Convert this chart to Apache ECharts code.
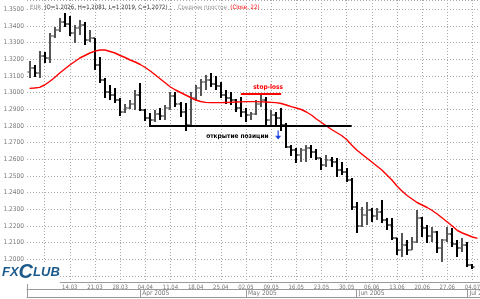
<!DOCTYPE html>
<html><head><meta charset="utf-8">
<script src="https://cdn.jsdelivr.net/npm/echarts@6/dist/echarts.min.js"></script>
<style>html,body{margin:0;padding:0;background:#fff}#c{width:480px;height:299px}</style>
</head><body><div id="c"></div>
<script>
const categories = [
'02.03','03.03','04.03','07.03','08.03','09.03','10.03','11.03','14.03','15.03','16.03','17.03','18.03','21.03','22.03','23.03','24.03','25.03','28.03','29.03','30.03','31.03',
'01.04','04.04','05.04','06.04','07.04','08.04','11.04','12.04','13.04','14.04','15.04','18.04','19.04','20.04','21.04','22.04','25.04','26.04','27.04','28.04','29.04',
'02.05','03.05','04.05','05.05','06.05','09.05','10.05','11.05','12.05','13.05','16.05','17.05','18.05','19.05','20.05','23.05','24.05','25.05','26.05','27.05','30.05','31.05',
'01.06','02.06','03.06','06.06','07.06','08.06','09.06','10.06','13.06','14.06','15.06','16.06','17.06','20.06','21.06','22.06','23.06','24.06','27.06','28.06','29.06','30.06',
'01.07','04.07','05.07'];
const weekTicks = ['07.03','14.03','21.03','28.03','04.04','11.04','18.04','25.04','02.05','09.05','16.05','23.05','30.05','06.06','13.06','20.06','27.06','04.07'];
const hiddenWeekLabels = ['07.03'];
const monthLabels = {'01.04':'Apr 2005','02.05':'May 2005','01.06':'Jun 2005','01.07':'Jul 2005'};

const openP = [1.3124,1.3148,1.3118,1.3220,1.3208,1.3340,1.3376,1.3424,1.3412,1.3358,
1.3388,1.3406,1.3316,1.3328,1.3166,1.3076,1.3004,1.2986,1.2956,1.2884,
1.2908,1.2932,1.2986,1.2896,1.2848,1.2836,1.2872,1.2860,1.2908,1.2980,
1.2932,1.2884,1.2806,1.2968,1.3028,1.3064,1.3076,1.3052,1.3040,1.2986,
1.2968,1.2956,1.2908,1.2884,1.2866,1.2872,1.2932,1.2956,1.2836,1.2866,
1.2848,1.2806,1.2674,1.2656,1.2626,1.2656,1.2668,1.2644,1.2608,1.2566,
1.2596,1.2584,1.2536,1.2524,1.2476,1.2314,1.2200,1.2266,1.2296,1.2260,
1.2284,1.2236,1.2206,1.2128,1.2056,1.2086,1.2056,1.2104,1.2248,1.2188,
1.2140,1.2164,1.2068,1.2116,1.2152,1.2092,1.2068,1.2086,1.1966];
const highP = [1.3190,1.3166,1.3250,1.3244,1.3358,1.3394,1.3448,1.3478,1.3460,1.3406,
1.3436,1.3424,1.3376,1.3328,1.3214,1.3088,1.3046,1.3028,1.2968,1.2932,
1.2956,1.3016,1.3058,1.2902,1.2878,1.2896,1.2908,1.2926,1.3004,1.3004,
1.2944,1.2938,1.3004,1.3046,1.3082,1.3106,1.3118,1.3100,1.3064,1.3016,
1.3004,1.2962,1.2974,1.2908,1.2884,1.2956,1.2986,1.2974,1.2896,1.2884,
1.2908,1.2818,1.2686,1.2668,1.2668,1.2686,1.2686,1.2662,1.2608,1.2626,
1.2614,1.2608,1.2584,1.2548,1.2488,1.2344,1.2314,1.2344,1.2308,1.2308,
1.2356,1.2248,1.2248,1.2128,1.2158,1.2116,1.2134,1.2296,1.2254,1.2206,
1.2194,1.2170,1.2122,1.2194,1.2188,1.2116,1.2128,1.2104,1.1972];
const lowP = [1.3088,1.3094,1.3088,1.3178,1.3178,1.3328,1.3364,1.3394,1.3340,1.3298,
1.3346,1.3286,1.3304,1.3136,1.3058,1.2968,1.2956,1.2938,1.2860,1.2878,
1.2902,1.2896,1.2890,1.2830,1.2794,1.2824,1.2836,1.2836,1.2896,1.2914,
1.2854,1.2770,1.2794,1.2950,1.2980,1.3016,1.3034,1.3016,1.2968,1.2932,
1.2926,1.2884,1.2854,1.2824,1.2836,1.2866,1.2914,1.2806,1.2794,1.2806,
1.2770,1.2668,1.2620,1.2578,1.2584,1.2584,1.2608,1.2596,1.2536,1.2554,
1.2554,1.2494,1.2506,1.2464,1.2296,1.2158,1.2194,1.2206,1.2224,1.2236,
1.2218,1.2176,1.2116,1.2026,1.2014,1.2026,1.2056,1.2098,1.2134,1.2098,
1.2104,1.2038,1.1984,1.2104,1.2074,1.2014,1.2044,1.1954,1.1942];
const closeP = [1.3148,1.3118,1.3220,1.3208,1.3340,1.3376,1.3424,1.3412,1.3358,1.3388,
1.3406,1.3316,1.3328,1.3166,1.3076,1.3004,1.2986,1.2956,1.2884,1.2908,
1.2932,1.2986,1.2896,1.2848,1.2836,1.2872,1.2860,1.2908,1.2980,1.2932,
1.2884,1.2806,1.2968,1.3028,1.3064,1.3076,1.3052,1.3040,1.2986,1.2968,
1.2956,1.2908,1.2884,1.2866,1.2872,1.2932,1.2956,1.2836,1.2866,1.2848,
1.2806,1.2674,1.2656,1.2626,1.2656,1.2668,1.2644,1.2608,1.2566,1.2596,
1.2584,1.2536,1.2524,1.2476,1.2314,1.2200,1.2266,1.2296,1.2260,1.2284,
1.2236,1.2206,1.2128,1.2056,1.2086,1.2056,1.2104,1.2248,1.2188,1.2140,
1.2164,1.2068,1.2116,1.2152,1.2092,1.2068,1.2086,1.1966,1.1954];
const ma22 = [1.3026,1.3028,1.3032,1.3046,1.3067,1.3091,1.3118,1.3142,1.3166,1.3187,
1.3208,1.3223,1.3238,1.3249,1.3256,1.3256,1.3247,1.3238,1.3223,1.3211,
1.3196,1.3184,1.3169,1.3151,1.3130,1.3106,1.3082,1.3058,1.3034,1.3016,
1.3001,1.2986,1.2971,1.2956,1.2947,1.2942,1.2940,1.2940,1.2940,1.2941,
1.2942,1.2944,1.2945,1.2946,1.2946,1.2946,1.2945,1.2944,1.2942,1.2940,
1.2935,1.2926,1.2916,1.2908,1.2899,1.2884,1.2866,1.2842,1.2821,1.2800,
1.2779,1.2761,1.2743,1.2719,1.2686,1.2656,1.2632,1.2608,1.2584,1.2560,
1.2536,1.2506,1.2476,1.2440,1.2410,1.2383,1.2362,1.2341,1.2326,1.2311,
1.2293,1.2272,1.2248,1.2224,1.2200,1.2173,1.2158,1.2146,1.2134,1.2126];

const entryLevel = 1.2800, entryFrom = '05.04', entryTo = '31.05';
const stopLevel = 1.2995, stopFrom = '29.04', stopTo = '11.05';

const ohlc = openP.map((o, i) => [i, o, highP[i], lowP[i], closeP[i]]);
const chart = echarts.init(document.getElementById('c'), null, {renderer: 'canvas'});
const FONT = "'DejaVu Sans Condensed', 'Liberation Sans', sans-serif";

chart.setOption({
  animation: false,
  backgroundColor: '#fff',
  grid: {left: 27, right: 0, top: 0, bottom: 17, containLabel: false, outerBoundsMode: 'none'},
  xAxis: [{
    type: 'category', data: categories, boundaryGap: true, position: 'bottom',
    axisLine: {show: true, lineStyle: {color: '#999', width: 1}},
    axisTick: {show: false},
    axisLabel: {color: '#777', fontSize: 6, fontFamily: FONT, margin: 2, hideOverlap: false,
      interval: (i, v) => weekTicks.includes(v) && !hiddenWeekLabels.includes(v)},
    splitLine: {show: true, alignWithLabel: true, interval: (i, v) => weekTicks.includes(v),
      lineStyle: {color: '#aaa', type: [1, 2], width: 1}}
  }, {
    type: 'category', data: categories, boundaryGap: true, position: 'bottom', offset: 7,
    axisLine: {show: true, lineStyle: {color: '#999', width: 1}},
    axisTick: {show: true, alignWithLabel: true, length: 8, interval: (i, v) => v in monthLabels,
      lineStyle: {color: '#999'}},
    axisLabel: {show: true, color: '#777', fontSize: 6.5, fontFamily: FONT, margin: 1, hideOverlap: false,
      align: 'left', padding: [0, 0, 0, 2],
      interval: (i, v) => v in monthLabels, formatter: v => monthLabels[v] || ''},
    splitLine: {show: false}
  }, {
    type: 'category', data: categories, boundaryGap: true, position: 'bottom', offset: 15,
    axisLine: {show: true, lineStyle: {color: '#999', width: 1}},
    axisTick: {show: true, inside: true, length: 15, interval: (i) => i === 0, lineStyle: {color: '#999'}},
    axisLabel: {show: false}, splitLine: {show: false}
  }],
  yAxis: {
    type: 'value', min: 1.1864, max: 1.3556, splitNumber: 17, position: 'left',
    axisLine: {show: false}, axisTick: {show: false},
    axisLabel: {color: '#777', fontSize: 6.5, fontFamily: FONT, margin: 3,
      showMinLabel: false, showMaxLabel: false,
      formatter: v => (v > 1.1995 && Math.abs(v * 100 - Math.round(v * 100)) < 1e-6) ? v.toFixed(4) : ''},
    splitLine: {show: true, lineStyle: {color: '#aaa', type: [1, 2], width: 1}}
  },
  series: [{
    name: 'EUR', type: 'custom', data: ohlc, encode: {x: 0, y: [1, 2, 3, 4]}, z: 3,
    renderItem: (params, api) => {
      const i = api.value(0);
      const pO = api.coord([i, api.value(1)]);
      const pH = api.coord([i, api.value(2)]);
      const pL = api.coord([i, api.value(3)]);
      const pC = api.coord([i, api.value(4)]);
      const x = Math.round(pO[0]);
      const up = api.value(4) >= api.value(1);
      const col = up ? '#555' : '#000';
      return {type: 'group', children: [
        {type: 'line', shape: {x1: x, y1: pH[1], x2: x, y2: pL[1]}, style: {stroke: col, lineWidth: 2}},
        {type: 'line', shape: {x1: x - 2.5, y1: pO[1], x2: x, y2: pO[1]}, style: {stroke: col, lineWidth: 1.2}},
        {type: 'line', shape: {x1: x, y1: pC[1], x2: x + 2.5, y2: pC[1]}, style: {stroke: col, lineWidth: 1.2}}
      ]};
    }
  }, {
    name: 'MA22', type: 'line', data: ma22, symbol: 'none', z: 4,
    lineStyle: {color: '#ff0000', width: 1.4},
    markLine: {
      silent: true, symbol: ['none', 'none'], label: {show: false},
      data: [
        [{coord: [entryFrom, entryLevel], lineStyle: {color: '#000', width: 2, type: 'solid'}}, {coord: [entryTo, entryLevel]}],
        [{coord: [stopFrom, stopLevel], lineStyle: {color: '#ff0000', width: 2, type: 'solid'}}, {coord: [stopTo, stopLevel]}]
      ]
    },
    markPoint: {
      silent: true,
      data: [
        {coord: ['06.05', 1.3031], symbol: 'rect', symbolSize: 0,
          label: {show: true, formatter: 'stop-loss', color: '#ff0000', fontWeight: 'bold', fontSize: 6.5, fontFamily: FONT, offset: [2, 0]}},
        {coord: ['28.04', 1.2740], symbol: 'rect', symbolSize: 0,
          label: {show: true, formatter: 'открытие позиции', color: '#000', fontWeight: 'bold', fontSize: 6.5, fontFamily: FONT, offset: [1.5, 0]}},
        {coord: ['10.05', 1.2746], symbol: 'path://M4,0 L6,0 L6,8 L10,8 L5,14 L0,8 L4,8 Z', symbolSize: [6, 9], symbolOffset: [2, 0],
          itemStyle: {color: '#1a44dd'}, label: {show: false}}
      ]
    }
  }],
  graphic: [
    {type: 'text', left: 30, top: 1, z: 10, style: {
      text: '{a|EUR} {b|(O=1.2026, H=1.2081, L=1.2019, C=1.2072) ;}  {c|Среднее простое} {d|(Close, 22)}',
      rich: {
        a: {fill: '#888', fontSize: 6, fontFamily: FONT},
        b: {fill: '#333', fontSize: 6, fontFamily: FONT},
        c: {fill: '#999', fontSize: 6, fontFamily: FONT},
        d: {fill: '#ff0000', fontSize: 6, fontFamily: FONT}
      }}},
    {type: 'rect', left: 0, top: 262, z: 10, shape: {width: 60, height: 22}, style: {fill: '#fff'}},
    {type: 'text', left: 2, top: 262, z: 11, style: {
      text: '{f|FX}{c|C}{f|LUB}',
      rich: {
        f: {fill: '#1d5a8c', fontSize: 13, fontStyle: 'italic', fontWeight: 'bold', fontFamily: 'Liberation Sans'},
        c: {fill: '#1d5a8c', fontSize: 20, fontStyle: 'italic', fontWeight: 'bold', fontFamily: 'Liberation Sans'}
      }}}
  ]
});
</script>
</body></html>
